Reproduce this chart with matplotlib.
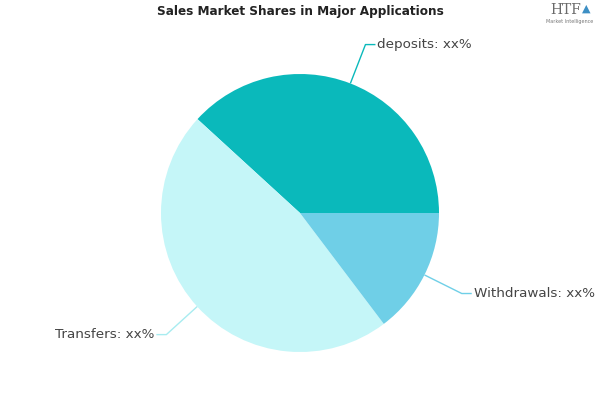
import numpy as np
import matplotlib.pyplot as plt

# slice data
labels = ['deposits', 'Transfers', 'Withdrawals']
shares = [38.2, 47.1, 14.7]
label_text = ['deposits: xx%', 'Transfers: xx%', 'Withdrawals: xx%']
colors = ['#0ab9bb', '#c5f6f8', '#6fcfe7']
line_colors = ['#0ab9bb', '#a8ecf0', '#6fcfe7']

W, H = 600, 400
cx, cy, R = 300, H - 213, 139

fig = plt.figure(figsize=(6, 4), dpi=100, facecolor='white')
ax = fig.add_axes([0, 0, 1, 1])
wedges, _ = ax.pie(shares, colors=colors, startangle=0, counterclock=True,
                   center=(cx, cy), radius=R, frame=True,
                   wedgeprops=dict(linewidth=0))
ax.set_xlim(0, W)
ax.set_ylim(0, H)
ax.set_aspect('equal')
ax.axis('off')

# leader lines with elbows
for w, txt, lc in zip(wedges, label_text, line_colors):
    mid = np.deg2rad((w.theta1 + w.theta2) / 2)
    x0, y0 = cx + R * np.cos(mid), cy + R * np.sin(mid)
    x1, y1 = cx + 1.3 * R * np.cos(mid), cy + 1.3 * R * np.sin(mid)
    side = 1 if np.cos(mid) >= 0 else -1
    x2 = x1 + side * 10
    ax.plot([x0, x1, x2], [y0, y1, y1], color=lc, lw=1, solid_capstyle='butt')
    ax.text(x2 + side * 2, y1, txt, ha='left' if side > 0 else 'right', va='center',
            fontsize=9.7, color='#444444', family='DejaVu Sans')

fig.text(0.5, 1 - 12 / H, 'Sales Market Shares in Major Applications', ha='center', va='center',
         fontsize=9.6, fontweight='heavy', fontstretch='condensed', color='#222222',
         family=['DejaVu Sans'])

# logo
fig.text(566 / W, 1 - 10 / H, 'HTF', ha='center', va='center', fontsize=10,
         color='#6a6a6a', family='DejaVu Serif')
fig.text(586 / W, 1 - 9 / H, '\u25B2', ha='center', va='center', fontsize=8,
         color='#3d8fc4')
fig.text(570 / W, 1 - 22 / H, 'Market Intelligence', ha='center', va='center', fontsize=3.5,
         color='#777777')

fig.savefig('out.png', dpi=100)
